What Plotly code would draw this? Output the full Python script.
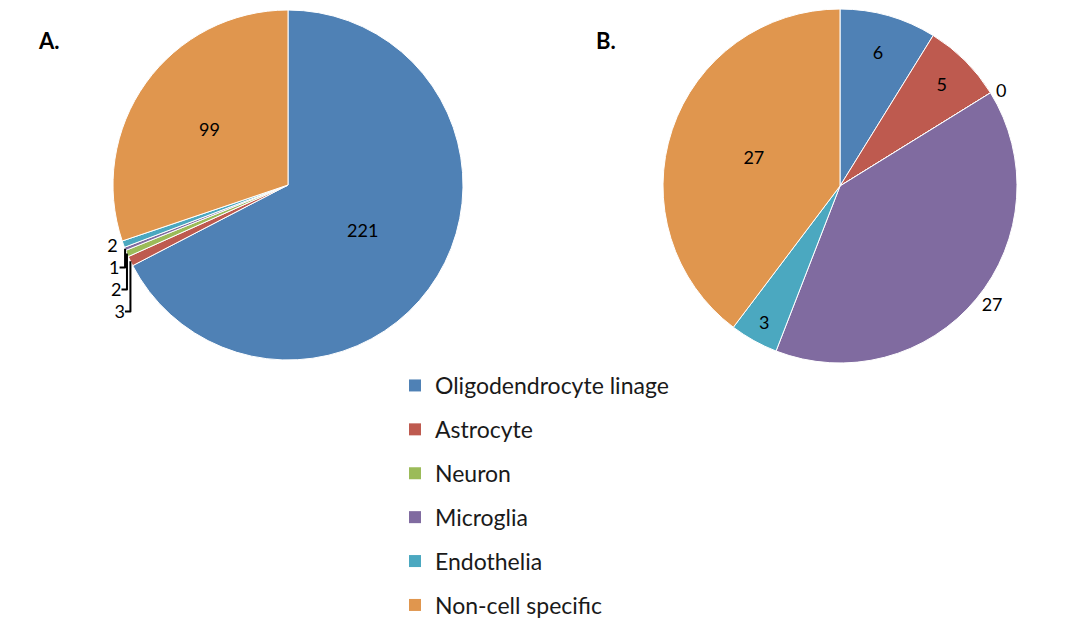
import plotly.graph_objects as go

# Cell-type categories shared by both pies
categories = ["Oligodendrocyte linage", "Astrocyte", "Neuron",
              "Microglia", "Endothelia", "Non-cell specific"]

# Counts per category for panel A and panel B
counts_a = [221, 3, 2, 1, 2, 99]
counts_b = [6, 5, 0, 27, 3, 27]

colors = ["#4F81B5", "#BE5A4F", "#9BBB59", "#806BA0", "#4BA8C0", "#E0964E"]

# Label placement per slice
textpos_a = ["inside", "outside", "outside", "outside", "outside", "inside"]
textpos_b = ["inside", "inside", "outside", "outside", "inside", "inside"]

font_family = "Lato, 'Open Sans', sans-serif"

W, H = 1065, 619


def dom_x(x0, x1):
    return [x0 / W, x1 / W]


def dom_y(top, bottom):
    return [1 - bottom / H, 1 - top / H]


fig = go.Figure()

fig.add_trace(go.Pie(
    labels=categories, values=counts_a, sort=False, direction="clockwise",
    rotation=0, marker=dict(colors=colors, line=dict(color="white", width=1)),
    textinfo="value", textposition=textpos_a,
    insidetextorientation="horizontal",
    textfont=dict(family=font_family, size=18, color="#000000"),
    domain=dict(x=dom_x(113, 463), y=dom_y(10, 360)),
    showlegend=False, hoverinfo="label+value",
))

fig.add_trace(go.Pie(
    labels=categories, values=counts_b, sort=False, direction="clockwise",
    rotation=0, marker=dict(colors=colors, line=dict(color="white", width=1)),
    textinfo="value", textposition=textpos_b,
    insidetextorientation="horizontal",
    textfont=dict(family=font_family, size=18, color="#000000"),
    domain=dict(x=dom_x(663, 1017), y=dom_y(9, 363)),
    showlegend=False, hoverinfo="label+value",
))

# Legend entries: one group per category so rows can be spaced apart
for cat, col in zip(categories, colors):
    fig.add_trace(go.Scatter(
        x=[None], y=[None], mode="markers", name=cat, legendgroup=cat,
        marker=dict(symbol="square", size=10, color=col),
        showlegend=True, hoverinfo="skip",
    ))

fig.add_annotation(text="<b>A.</b>", x=36 / W, y=1 - 40 / H, xref="paper", yref="paper",
                   xanchor="left", yanchor="middle", showarrow=False,
                   font=dict(family=font_family, size=22, color="#000000"))
fig.add_annotation(text="<b>B.</b>", x=594 / W, y=1 - 40 / H, xref="paper", yref="paper",
                   xanchor="left", yanchor="middle", showarrow=False,
                   font=dict(family=font_family, size=22, color="#000000"))

fig.update_layout(
    width=W, height=H,
    margin=dict(l=0, r=0, t=0, b=0, autoexpand=False),
    paper_bgcolor="white", plot_bgcolor="white",
    xaxis=dict(visible=False), yaxis=dict(visible=False),
    legend=dict(x=395 / W, y=1 - 364 / H, xanchor="left", yanchor="top",
                font=dict(family=font_family, size=23, color="#1a1a1a"),
                tracegroupgap=11, itemsizing="constant", itemwidth=30,
                bgcolor="rgba(0,0,0,0)"),
    font=dict(family=font_family),
)

fig.write_html("out.html")
